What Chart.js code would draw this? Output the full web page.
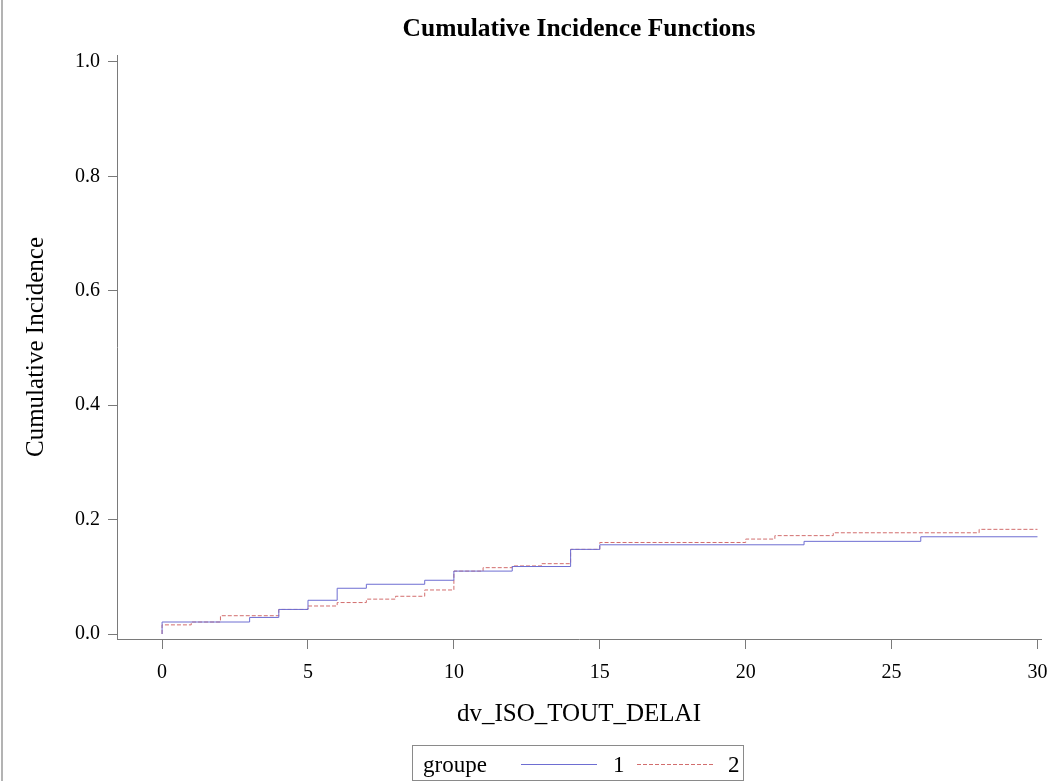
<!DOCTYPE html>
<html>
<head>
<meta charset="utf-8">
<script src="https://cdn.jsdelivr.net/npm/chart.js@4"></script>
<style>
  html, body { margin: 0; padding: 0; background: #fff; }
  #wrap { width: 1050px; height: 781px; position: relative; }
</style>
</head>
<body>
<div id="wrap"><canvas id="c" width="1050" height="781"></canvas></div>
<script>
// ---- Data ----
const chartTitle = "Cumulative Incidence Functions";
const xTitle = "dv_ISO_TOUT_DELAI";
const yTitle = "Cumulative Incidence";
const legendTitle = "groupe";
const groupLabels = ["1", "2"];

// group 1 (solid blue): event times and cumulative incidence after each step
const times1 = [0, 0, 3, 4, 5, 6, 7, 9, 10, 12, 14, 15, 22, 26, 30];
const cif1   = [0, 0.021, 0.029, 0.043, 0.059, 0.080, 0.087, 0.094, 0.110, 0.118, 0.148, 0.156, 0.162, 0.170, 0.170];

// group 2 (dashed red)
const times2 = [0, 0, 1, 2, 4, 5, 6, 7, 8, 9, 10, 11, 12, 13, 14, 15, 20, 21, 23, 28, 30];
const cif2   = [0, 0.016, 0.021, 0.032, 0.043, 0.049, 0.055, 0.061, 0.066, 0.077, 0.110, 0.116, 0.119, 0.123, 0.148, 0.160, 0.166, 0.172, 0.177, 0.183, 0.183];

const xTicks = [0, 5, 10, 15, 20, 25, 30];
const yTicks = [0.0, 0.2, 0.4, 0.6, 0.8, 1.0];

// ---- Styles ----
const SERIF = "'Liberation Serif', 'Times New Roman', serif";
const color1 = '#6e6ed2';
const color2 = '#d26e6e';
const axisColor = '#7a7a7a';

const toPts = (t, v) => t.map((x, i) => ({ x: x, y: v[i] }));

const decorPlugin = {
  id: 'decor',
  afterDraw(chart) {
    const ctx = chart.ctx;
    ctx.save();
    // left page border line
    ctx.strokeStyle = '#9a9a9a';
    ctx.lineWidth = 1.5;
    ctx.beginPath(); ctx.moveTo(2, 0); ctx.lineTo(2, 781); ctx.stroke();

    // title
    ctx.fillStyle = '#000';
    ctx.font = "bold 25.5px " + SERIF;
    ctx.textAlign = 'center';
    ctx.textBaseline = 'middle';
    ctx.fillText(chartTitle, 579, 29);

    // legend box
    const bx = 412, by = 745, bw = 331, bh = 35;
    ctx.strokeStyle = '#8a8a8a';
    ctx.lineWidth = 1;
    ctx.strokeRect(bx + 0.5, by + 0.5, bw, bh);
    ctx.font = "23px " + SERIF;
    ctx.textAlign = 'left';
    ctx.textBaseline = 'alphabetic';
    ctx.fillStyle = '#000';
    ctx.fillText(legendTitle, 423, 772);
    const ds = chart.data.datasets;
    // sample 1
    ctx.strokeStyle = ds[0].borderColor;
    ctx.setLineDash([]);
    ctx.beginPath(); ctx.moveTo(521, 764.5); ctx.lineTo(597, 764.5); ctx.stroke();
    ctx.fillText(ds[0].label, 613, 772);
    // sample 2
    ctx.strokeStyle = ds[1].borderColor;
    ctx.setLineDash(ds[1].borderDash);
    ctx.beginPath(); ctx.moveTo(637, 764.5); ctx.lineTo(715, 764.5); ctx.stroke();
    ctx.setLineDash([]);
    ctx.fillText(ds[1].label, 728, 772);
    ctx.restore();
  }
};

new Chart(document.getElementById('c'), {
  type: 'line',
  data: {
    datasets: [
      {
        label: groupLabels[0],
        data: toPts(times1, cif1),
        borderColor: color1,
        borderWidth: 1,
        pointRadius: 0,
        stepped: 'before',
        fill: false
      },
      {
        label: groupLabels[1],
        data: toPts(times2, cif2),
        borderColor: color2,
        borderWidth: 1,
        borderDash: [4, 2],
        pointRadius: 0,
        stepped: 'before',
        fill: false
      }
    ]
  },
  options: {
    responsive: false,
    animation: false,
    devicePixelRatio: 1,
    layout: { padding: { top: 55, right: 9, left: 0, bottom: 0 } },
    plugins: {
      legend: { display: false },
      title: { display: false },
      tooltip: { enabled: false }
    },
    scales: {
      x: {
        type: 'linear',
        min: -1.545,
        max: 30.12,
        afterBuildTicks: (s) => { s.ticks = xTicks.map(v => ({ value: v })); },
        afterFit: (s) => { s.height = 142; s.paddingLeft = 0; s.paddingRight = 0; },
        grid: { drawOnChartArea: false, drawTicks: true, tickLength: 10, color: axisColor, lineWidth: 1 },
        border: { display: true, color: axisColor, width: 1 },
        ticks: {
          color: '#000',
          font: { family: SERIF, size: 20 },
          padding: 12,
          maxRotation: 0,
          callback: (v) => String(v)
        },
        title: {
          display: true,
          text: xTitle,
          color: '#000',
          font: { family: SERIF, size: 25 },
          padding: { top: 0, bottom: 52 }
        }
      },
      y: {
        type: 'linear',
        min: -0.0087,
        max: 1.0122,
        afterBuildTicks: (s) => { s.ticks = yTicks.map(v => ({ value: v })); },
        afterFit: (s) => { s.width = 117; s.paddingTop = 0; s.paddingBottom = 0; },
        grid: { drawOnChartArea: false, drawTicks: true, tickLength: 9, color: axisColor, lineWidth: 1 },
        border: { display: true, color: axisColor, width: 1 },
        ticks: {
          color: '#000',
          font: { family: SERIF, size: 20 },
          padding: 8,
          callback: (v) => Number(v).toFixed(1)
        },
        title: {
          display: true,
          text: yTitle,
          color: '#000',
          font: { family: SERIF, size: 25 },
          padding: { top: 21, bottom: 0 }
        }
      }
    }
  },
  plugins: [decorPlugin]
});
</script>
</body>
</html>
